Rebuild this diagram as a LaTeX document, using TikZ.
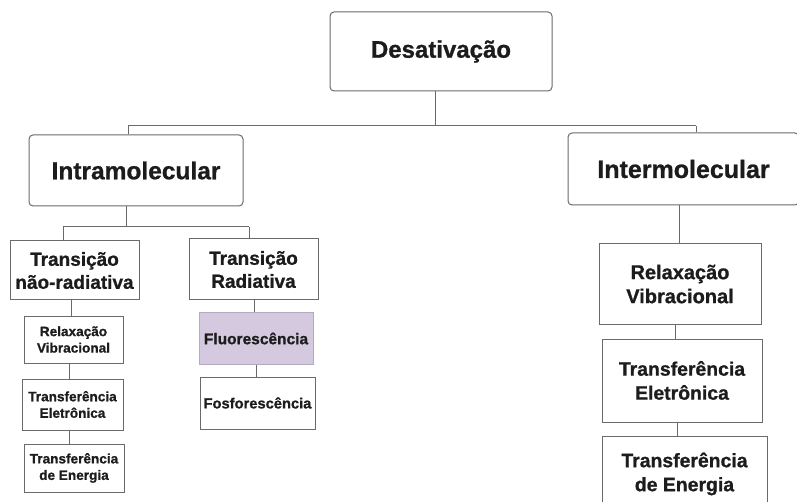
\documentclass[tikz,border=0pt]{standalone}
\usepackage{fontspec}
\setmainfont{Liberation Sans}[BoldFeatures={FakeBold=0.9}]
\definecolor{boxline}{HTML}{6A6A6A}
\definecolor{txt}{HTML}{1C1C1C}
\definecolor{lav}{HTML}{D5C9E0}
\definecolor{lavline}{HTML}{B4AABF}
\begin{document}
\begin{tikzpicture}[x=1pt,y=-1pt,
  boxbase/.style={draw=boxline,line width=1pt,inner sep=0pt,align=center,text=txt},
  rbox/.style={boxbase,rounded corners=4pt},
  sbox/.style={boxbase},
  conn/.style={draw=boxline,line width=1pt}]
\useasboundingbox (0,0) rectangle (797,502);
% helper: box from (x1,y1) to (x2,y2)
\newcommand{\mybox}[8]{%
  \node[#1,font=\bfseries#7,minimum width=#4-#2 pt,minimum height=#5-#3 pt] (#6) at ({(#2+#4)/2},{(#3+#5)/2}) {#8};}
\mybox{rbox}{330}{12}{552}{91}{des}{\fontsize{24}{28}\selectfont}{Desativação}
\mybox{rbox}{29}{135}{243}{206}{intra}{\fontsize{24.5}{28}\selectfont}{Intramolecular}
\mybox{rbox}{568}{133}{799}{205}{inter}{\fontsize{25}{28}\selectfont}{Intermolecular}
\mybox{sbox}{10}{241}{139}{300}{nr}{\fontsize{19}{23}\selectfont}{Transição\\ não-radiativa}
\mybox{sbox}{189}{239}{318}{300}{rad}{\fontsize{19}{23}\selectfont}{Transição\\ Radiativa}
\mybox{sbox}{24}{316}{123}{363}{lrv}{\fontsize{13.6}{16.5}\selectfont}{Relaxação\\ Vibracional}
\mybox{sbox}{22}{379}{123}{430}{lte}{\fontsize{13.6}{16.5}\selectfont}{Transferência\\ Eletrônica}
\mybox{sbox}{24}{444}{124}{492}{lde}{\fontsize{13.6}{16.5}\selectfont}{Transferência\\ de Energia}
\mybox{sbox,fill=lav,draw=lavline}{199}{313}{313}{364}{flu}{\fontsize{15.5}{18}\selectfont}{Fluorescência}
\mybox{sbox}{200}{377}{315}{429}{fos}{\fontsize{14.7}{18}\selectfont}{Fosforescência}
\mybox{sbox}{599}{244}{761}{324}{rrv}{\fontsize{20}{24}\selectfont}{Relaxação\\ Vibracional}
\mybox{sbox}{602}{339}{762}{422}{rte}{\fontsize{19.4}{24}\selectfont}{Transferência\\ Eletrônica}
\mybox{sbox}{602}{436}{767}{512}{rde}{\fontsize{19.4}{24}\selectfont}{Transferência\\ de Energia}
% junctions
\coordinate (j0) at (435,126);
\coordinate (jL) at (128,126);
\coordinate (jR) at (696,126);
\coordinate (k0) at (126,227);
\coordinate (kL) at (63,227);
\coordinate (kR) at (249,227);
% connectors
\draw[conn] (des.south -| j0) -- (j0);
\draw[conn] (jL) -- (jR);
\draw[conn] (jL) -- (intra.north -| jL);
\draw[conn] (jR) -- (inter.north -| jR);
\draw[conn] (intra.south -| k0) -- (k0);
\draw[conn] (kL) -- (kR);
\draw[conn] (kL) -- (nr.north -| kL);
\draw[conn] (kR) -- (rad.north -| kR);
\draw[conn] (nr.south -| 71,0) -- (lrv.north -| 71,0);
\draw[conn] (lrv.south -| 69,0) -- (lte.north -| 69,0);
\draw[conn] (lte.south -| 69,0) -- (lde.north -| 69,0);
\draw[conn] (rad.south -| 254,0) -- (flu.north -| 254,0);
\draw[conn] (flu.south -| 256,0) -- (fos.north -| 256,0);
\draw[conn] (inter.south -| 679,0) -- (rrv.north -| 679,0);
\draw[conn] (rrv.south -| 675,0) -- (rte.north -| 675,0);
\draw[conn] (rte.south -| 677,0) -- (rde.north -| 677,0);
\end{tikzpicture}
\end{document}
